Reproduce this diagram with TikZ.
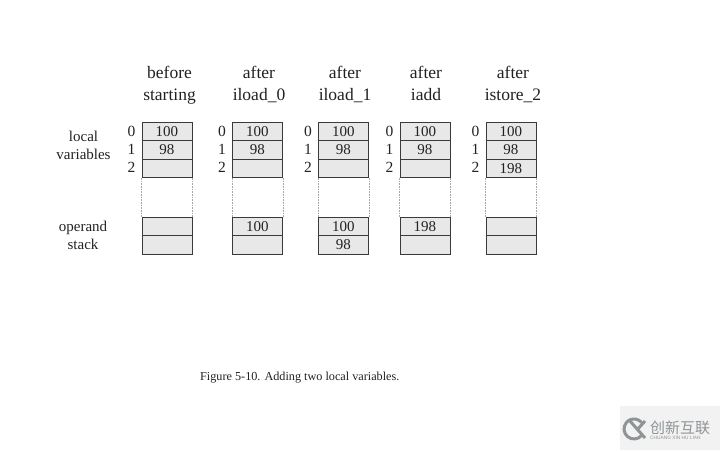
\documentclass[tikz,border=0pt]{standalone}
\usepackage{fontspec}
\setmainfont{Liberation Serif}
\newfontfamily\cjkf{Noto Sans CJK SC}
\newfontfamily\sansf{Liberation Sans}
\definecolor{cellg}{HTML}{E8E8E8}
\definecolor{lineg}{HTML}{3A3A3A}
\definecolor{txt}{HTML}{222222}
\definecolor{wm}{HTML}{8F9496}
\tikzset{
  cellbox/.style={draw=lineg,fill=cellg,line width=.9pt,minimum width=50pt,minimum height=18.3pt,inner sep=0pt,anchor=north west,text=txt,font=\fontsize{15}{15}\selectfont},
  idx/.style={anchor=center,text=txt,inner sep=0pt,font=\fontsize{15.5}{15.5}\selectfont},
  head/.style={align=center,anchor=center,text=txt,inner sep=0pt,text height=12pt,text depth=26pt,font=\fontsize{17.5}{22}\selectfont},
  side/.style={align=center,anchor=center,text=txt,inner sep=0pt,text height=11pt,text depth=22pt,font=\fontsize{15}{18}\selectfont},
  guide/.style={draw=gray!70,densely dotted,line width=.6pt}
}
\newcommand{\stackcol}[8]{% name, x, head, v0,v1,v2,s0,s1
  \node[cellbox] (#1a) at (#2,122) {#4};
  \node[cellbox] (#1b) at (#2,140.3) {#5};
  \node[cellbox] (#1c) at (#2,158.6) {#6};
  \node[cellbox] (#1d) at (#2,217) {#7};
  \node[cellbox] (#1e) at (#2,235.3) {#8};
  \node[idx] (#1i) at (#2-10,131) {0};
  \node[idx] (#1j) at (#2-10,149.5) {1};
  \node[idx] (#1k) at (#2-10,167.5) {2};
  \draw[guide] (#1c.south west) -- (#1d.north west);
  \draw[guide] (#1c.south east) -- (#1d.north east);
}
\begin{document}
\begin{tikzpicture}[x=1pt,y=-1pt]
\useasboundingbox (0,0) rectangle (720,450);
\fill[white] (0,0) rectangle (720,450);
\stackcol{p}{141.5}{}{100}{98}{}{}{}
\stackcol{q}{232}{}{100}{98}{}{100}{}
\stackcol{r}{318}{}{100}{98}{}{100}{98}
\stackcol{s}{399.5}{}{100}{98}{}{198}{}
\stackcol{t}{485.5}{}{100}{98}{198}{}{}
\node[head] (h1) at (169.5,107) {before\\starting};
\node[head] (h2) at (259,107) {after\\iload\_0};
\node[head] (h3) at (345,107) {after\\iload\_1};
\node[head] (h4) at (426,107) {after\\iadd};
\node[head] (h5) at (513,107) {after\\istore\_2};
\node[side] (l1) at (83.5,165) {local\\variables};
\node[side] (l2) at (83,255) {operand\\stack};
\node[anchor=west,inner sep=0pt,text=txt,font=\fontsize{12.2}{14}\selectfont] (cap) at (200,378) {Figure 5-10. Adding two local variables.};
% watermark
\fill[black!5] (620,406) rectangle (720,450);
\draw[wm,line width=3pt] (641.7,435.4) arc (40:320:10);
\draw[wm,line width=3pt] (630,421) -- (645,438) (645,421) -- (637,430);
\node[anchor=west,inner sep=0pt,text=wm,font=\cjkf\fontsize{15}{15}\selectfont] (w1) at (650,428) {创新互联};
\node[anchor=west,inner sep=0pt,text=wm,font=\sansf\fontsize{4.8}{5}\selectfont] (w2) at (650,438) {CHUANG XIN HU LIAN};
\end{tikzpicture}
\end{document}
